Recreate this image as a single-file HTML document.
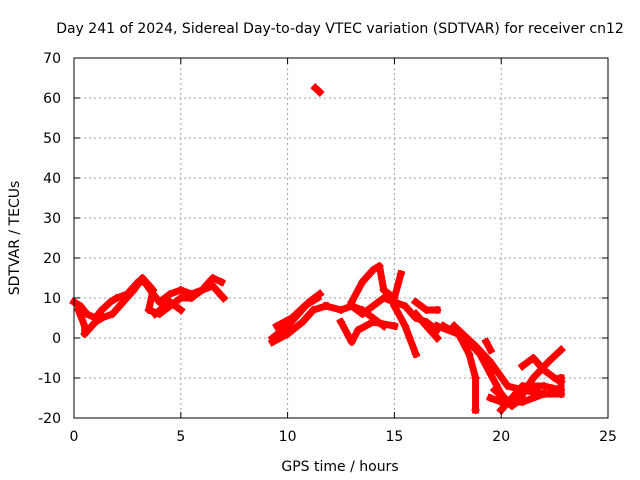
<!DOCTYPE html>
<html><head><meta charset="utf-8"><style>
body{margin:0;background:#fff}
svg{display:block;font-family:"DejaVu Sans","Liberation Sans",sans-serif}
</style></head><body>
<svg id="chart" width="640" height="480">
<text x="340" y="33" font-size="14" text-anchor="middle">Day 241 of 2024, Sidereal Day-to-day VTEC variation (SDTVAR) for receiver cn12</text>
<text x="340" y="471" font-size="14" text-anchor="middle">GPS time / hours</text>
<text transform="translate(19,238) rotate(-90)" font-size="14" text-anchor="middle">SDTVAR / TECUs</text>
<g id="grid"></g><g id="marks"></g><g id="axes"></g>
</svg>
<script>
const xTicks=[0,5,10,15,20,25];
const yTicks=[-20,-10,0,10,20,30,40,50,60,70];
const track1=[[0,9],[0.3,8],[0.6,6],[1,5],[1.3,7],[1.7,9],[2,10],[2.5,11],[3,14],[3.3,14],[3.7,11],[4,9],[4.5,11],[5,12],[5.5,11],[6,12],[6.5,15],[6.9,14]];
const track2=[[0.2,7],[0.5,3],[0.5,1],[1,4],[1.3,5],[1.8,6],[2.3,9],[2.8,12],[3.2,15],[3.7,12],[3.5,7],[4,6],[4.5,8],[5,10],[5.5,10],[6,12],[6.5,13],[7,10]];
const track3=[[3.8,6],[4.5,9],[5,7]];
const track4=[[11.3,62.5],[11.5,61.5]];
const track5=[[9.3,0],[10,3],[10.5,6],[11,9],[11.5,11]];
const track6=[[9.3,-1],[10,1],[10.7,4],[11.2,7],[11.8,8]];
const track7=[[9.5,3],[10.2,5],[10.8,8],[11.4,10]];
const track8=[[11.8,8],[12.5,7],[13,8],[13.5,7],[14,5],[14.5,3]];
const track9=[[12.5,4],[13,-1],[13.3,2],[14,4],[15,3]];
const track10=[[13,9],[13.5,14],[14,17],[14.3,18],[14.5,12],[15,10],[15.3,16]];
const track11=[[13,8],[13.5,6],[14,8],[14.5,10],[15.5,8],[16,5],[16.5,4],[17,2]];
const track12=[[15,8],[15.5,3],[16,-4]];
const track13=[[16,9],[16.5,7],[17,7]];
const track14=[[16,6],[17,0]];
const track15=[[17,3],[18,1],[18.5,-4],[18.8,-10],[18.8,-18]];
const track16=[[17.3,3],[18.3,0],[19,-4],[19.5,-9],[20,-14],[20.5,-17],[21,-15]];
const track17=[[17.8,3],[18.8,-2],[19.5,-6],[20.3,-12],[21,-13],[22,-14],[22.8,-14]];
const track18=[[19.3,-1],[19.5,-3]];
const track19=[[19.7,-13],[20.3,-16],[21,-14],[21.5,-10],[22.2,-6],[22.8,-3]];
const track20=[[21,-7],[21.5,-5],[22,-8],[22.5,-10],[22.8,-11]];
const track21=[[20,-18],[21,-12],[22,-12],[22.8,-13],[22.8,-10]];
const track22=[[19.5,-15],[20,-16],[21,-16],[22,-14]];
const tracks=[track1,track2,track3,track4,track5,track6,track7,track8,track9,track10,track11,track12,track13,track14,track15,track16,track17,track18,track19,track20,track21,track22];

const L=74,R=608,T=58,B=418,xmin=0,xmax=25,ymin=-20,ymax=70;
const xs=v=>L+(v-xmin)/(xmax-xmin)*(R-L);
const ys=v=>B-(v-ymin)/(ymax-ymin)*(B-T);
const NS="http://www.w3.org/2000/svg";
function mk(tag,attrs,parent){const e=document.createElementNS(NS,tag);for(const k in attrs)e.setAttribute(k,attrs[k]);parent.appendChild(e);return e;}
const grid=document.getElementById('grid'),axes=document.getElementById('axes'),marks=document.getElementById('marks');
xTicks.forEach(t=>{
  const x=xs(t);
  if(t>xmin&&t<xmax){const g=mk('line',{x1:x,x2:x,y1:T,y2:B,stroke:'#a0a0a0','stroke-dasharray':'2,3'},grid);
  
  }
  mk('line',{x1:x,x2:x,y1:B,y2:B-6,stroke:'#000'},axes);
  mk('line',{x1:x,x2:x,y1:T,y2:T+6,stroke:'#000'},axes);
  const tx=mk('text',{x:x,y:B+23,'font-size':14,'text-anchor':'middle'},axes);
  tx.textContent=t;
  
  
});
yTicks.forEach(t=>{
  const y=ys(t);
  if(t>ymin&&t<ymax){const g=mk('line',{x1:L,x2:R,y1:y,y2:y,stroke:'#a0a0a0','stroke-dasharray':'2,3'},grid);
  
  }
  mk('line',{x1:L,x2:L+6,y1:y,y2:y,stroke:'#000'},axes);
  mk('line',{x1:R,x2:R-6,y1:y,y2:y,stroke:'#000'},axes);
  const tx=mk('text',{x:L-13,y:y+5,'font-size':14,'text-anchor':'end'},axes);
  tx.textContent=t;
  
  
});
const fr=mk('rect',{x:L,y:T,width:R-L,height:B-T,fill:'none',stroke:'#000'},axes);


tracks.forEach(tr=>{
  const p=mk('polyline',{points:tr.map(d=>xs(d[0])+','+ys(d[1])).join(' '),fill:'none',stroke:'#f00','stroke-width':7,'stroke-linejoin':'round','stroke-linecap':'square'},marks);
  
  
  tr.forEach(d=>{
    const x=xs(d[0]),y=ys(d[1]);
    const m=mk('path',{d:`M${x-4},${y}H${x+4}M${x},${y-4}V${y+4}`,stroke:'#f00','stroke-width':2},marks);
    
    
  });
});
</script>
</body></html>
